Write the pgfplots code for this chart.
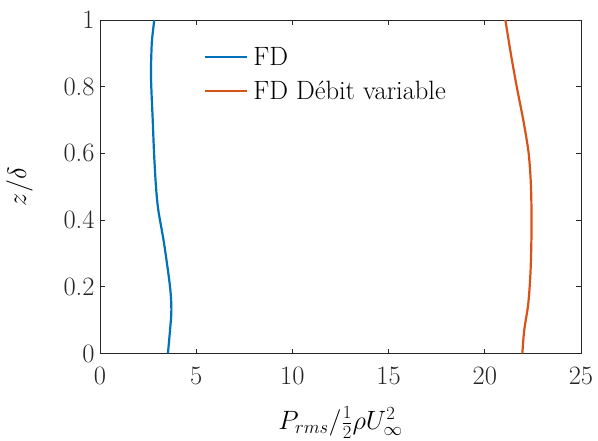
\RequirePackage{fix-cm}
\documentclass[border=0pt]{standalone}
\usepackage{pgfplots}
\pgfplotsset{compat=1.18}
\definecolor{mblue}{rgb}{0,0.447,0.741}
\definecolor{morange}{rgb}{0.85,0.325,0.098}
\definecolor{axgray}{rgb}{0.15,0.15,0.15}
\begin{document}
\begin{tikzpicture}
\begin{axis}[
  scale only axis,
  width=481bp, height=333.5bp,
  xmin=0, xmax=25, ymin=0, ymax=1,
  xtick={0,5,10,15,20,25},
  ytick={0,0.2,0.4,0.6,0.8,1},
  yticklabels={0,0.2,0.4,0.6,0.8,1},
  font=\fontsize{26.6}{32}\selectfont,
  axis line style={axgray, line width=0.8bp},
  tick style={axgray, line width=0.8bp},
  major tick length=5bp,
  tick align=inside,
  xtick pos=both, ytick pos=both,
  xticklabel style={yshift=-10bp, text=axgray},
  yticklabel style={xshift=-2bp, text=axgray},
  xlabel={$P_{rms}/\frac{1}{2}\rho U_\infty^2$},
  ylabel={$z/\delta$},
  xlabel style={yshift=-16bp},
  ylabel style={yshift=24bp},
  legend style={draw=none, fill=none, at={(0.21,0.93)}, anchor=north west,
    row sep=10bp, font=\fontsize{26.6}{32}\selectfont,
    nodes={inner xsep=5bp}},
  legend cell align=left,
  legend image code/.code={\draw[#1, line width=2.2bp] (0bp,0bp) -- (42bp,0bp);},
]
\coordinate (bl) at (rel axis cs:0,0);
\coordinate (tr) at (rel axis cs:1,1);
\addplot[mblue, line width=2.2bp, smooth] coordinates {
(3.53,0) (3.64,0.07) (3.71,0.13) (3.64,0.20) (3.33,0.33) (3.03,0.43) (2.91,0.5) (2.81,0.6) (2.74,0.7) (2.65,0.83) (2.68,0.917) (2.72,0.95) (2.82,1.0)
};
\addlegendentry{FD}
\addplot[morange, line width=2.2bp, smooth] coordinates {
(21.95,0) (22.05,0.07) (22.26,0.15) (22.38,0.25) (22.43,0.38) (22.40,0.5) (22.28,0.6) (22.0,0.7) (21.66,0.8) (21.35,0.9) (21.07,1.0)
};
\addlegendentry{FD D\'ebit variable}
\end{axis}
\pgfresetboundingbox
\path ([shift={(-100bp,-87.5bp)}]bl) rectangle ([shift={(17bp,20bp)}]tr);
\end{tikzpicture}
\end{document}
